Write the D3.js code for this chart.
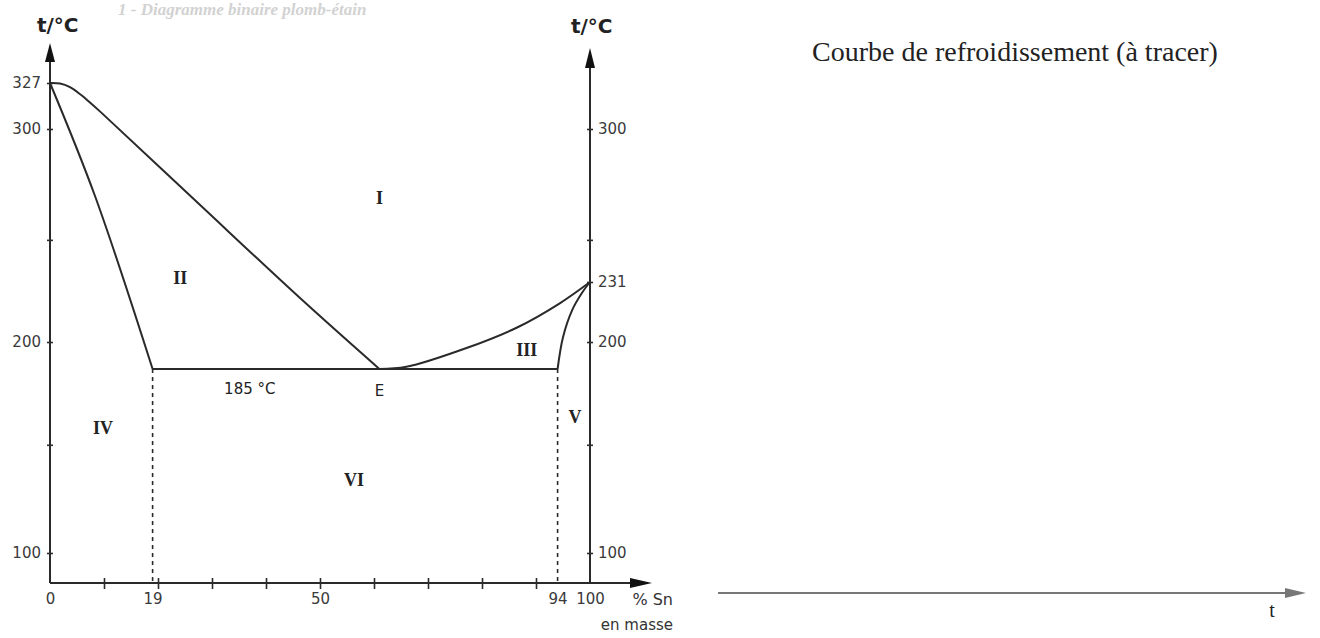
<!DOCTYPE html>
<html>
<head>
<meta charset="utf-8">
<script src="https://cdn.jsdelivr.net/npm/d3@7"></script>
<style>
  body { margin: 0; background: #fff; }
  svg { display: block; }
</style>
</head>
<body>
<div id="root"></div>
<script>
// Data ///////////////////////////////////////////////////////////////////
// composition in % Sn (mass), temperature in °C
const liquidusPb = [[0, 327], [1.85, 326.7], [3.7, 324.6], [5.6, 320.4], [7.4, 315.6], [9.3, 310.2], [27.8, 265.7], [46.3, 222.7], [61, 185]];
const solidusPb = [[0, 327], [8.3, 270], [19, 185]];
const liquidusSn = [[61, 185], [66, 186.2], [77, 196.5], [86.5, 207.5], [94.4, 220], [100, 231]];
const solidusSn = [[94, 185], [95, 202.5], [96.7, 216.5], [98.5, 225.3], [100, 231]];
const eutecticT = 185;
const eutecticX = 61;
const limitsX = [19, 94];

const leftTicks = [100, 150, 200, 250, 300, 327];
const leftLabels = [100, 200, 300, 327];
const rightTicks = [100, 150, 200, 231, 250, 300];
const rightLabels = [100, 200, 231, 300];
const bottomTicks = [10, 20, 30, 40, 50, 60, 70, 80, 90];
const bottomLabels = [0, 19, 50, 94, 100];

const regions = [
  { name: 'I', x: 61, t: 269 },
  { name: 'II', x: 24.1, t: 233 },
  { name: 'III', x: 88.3, t: 195.6 },
  { name: 'IV', x: 9.8, t: 158 },
  { name: 'V', x: 97.2, t: 163 },
  { name: 'VI', x: 56.3, t: 134 },
];

const tMin = 86;

// Chart ///////////////////////////////////////////////////////////////////
let width = 1320;
let height = 638;

const svg = d3.select('#root').append('svg').attr('width', width).attr('height', height);

const ink = '#2a2a2a';
const sans = 'DejaVu Sans, sans-serif';
const serif = 'Liberation Serif, Times New Roman, serif';

// faded heading of the source page
svg.append('text')
  .attr('x', 118).attr('y', 15)
  .attr('font-family', serif).attr('font-style', 'italic').attr('font-weight', 'bold')
  .attr('font-size', 17).attr('fill', '#d2d2d2')
  .text('1 - Diagramme binaire plomb-étain');

// scales (the drawing is not strictly to scale, so the y scale is piecewise)
let xScale = d3.scaleLinear().domain([0, 100]).range([50, 590]);
let yScale = d3.scaleLinear()
  .domain([tMin, 100, 185, 200, 231, 300, 327])
  .range([583, 553, 369, 342, 282, 129, 83]);

const arrow = (pts) => 'M' + pts.map((p) => p.join(',')).join('L') + 'Z';

// Y axes ///////////////////////////////////////////////////////////////////
let yLeft = d3.axisLeft(yScale).tickValues(leftTicks)
  .tickFormat((d) => (leftLabels.includes(d) ? d : ''))
  .tickSize(0).tickPadding(9);

let leftGroup = svg.append('g').attr('transform', `translate(${xScale(0)},0)`).call(yLeft);

let yRight = d3.axisRight(yScale).tickValues(rightTicks)
  .tickFormat((d) => (rightLabels.includes(d) ? d : ''))
  .tickSize(0).tickPadding(8);

let rightGroup = svg.append('g').attr('transform', `translate(${xScale(100)},0)`).call(yRight);

[leftGroup, rightGroup].forEach((g) => {
  g.select('.domain').remove();
  g.selectAll('.tick line').attr('x1', -3).attr('x2', 3).attr('stroke', ink).attr('stroke-width', 1.6);
  g.selectAll('.tick text').attr('font-family', sans).attr('font-size', 15).attr('fill', '#3a3a3a');
});

svg.append('line')
  .attr('x1', xScale(0)).attr('x2', xScale(0))
  .attr('y1', yScale(tMin)).attr('y2', 60)
  .attr('stroke', ink).attr('stroke-width', 2);
svg.append('path')
  .attr('d', arrow([[xScale(0), 43], [xScale(0) - 5, 62], [xScale(0) + 5, 62]]))
  .attr('fill', '#111');

svg.append('line')
  .attr('x1', xScale(100)).attr('x2', xScale(100))
  .attr('y1', yScale(tMin)).attr('y2', 66)
  .attr('stroke', ink).attr('stroke-width', 2);
svg.append('path')
  .attr('d', arrow([[xScale(100), 48], [xScale(100) - 5, 68], [xScale(100) + 5, 68]]))
  .attr('fill', '#111');

svg.append('text').attr('x', 37).attr('y', 32)
  .attr('font-family', sans).attr('font-weight', 'bold').attr('font-size', 20).attr('fill', '#222')
  .text('t/°C');
svg.append('text').attr('x', 571).attr('y', 33)
  .attr('font-family', sans).attr('font-weight', 'bold').attr('font-size', 20).attr('fill', '#222')
  .text('t/°C');

// X axis ///////////////////////////////////////////////////////////////////
let xMarks = d3.axisBottom(xScale).tickValues(bottomTicks).tickFormat('').tickSize(0);
let xMarkGroup = svg.append('g').attr('transform', `translate(0,${yScale(tMin)})`).call(xMarks);
xMarkGroup.select('.domain').remove();
xMarkGroup.selectAll('.tick line').attr('y1', -5).attr('y2', 6).attr('stroke', ink).attr('stroke-width', 1.6);

let xLabels = d3.axisBottom(xScale).tickValues(bottomLabels).tickSize(0).tickPadding(10);
let xLabelGroup = svg.append('g').attr('transform', `translate(0,${yScale(tMin)})`).call(xLabels);
xLabelGroup.select('.domain').remove();
xLabelGroup.selectAll('.tick text').attr('font-family', sans).attr('font-size', 15).attr('fill', '#3a3a3a');

svg.append('line')
  .attr('x1', xScale(0)).attr('x2', 632)
  .attr('y1', yScale(tMin)).attr('y2', yScale(tMin))
  .attr('stroke', ink).attr('stroke-width', 2);
svg.append('path')
  .attr('d', arrow([[652, yScale(tMin)], [630, yScale(tMin) - 5], [630, yScale(tMin) + 5]]))
  .attr('fill', '#111');

svg.append('text').attr('x', 673).attr('y', 605).attr('text-anchor', 'end')
  .attr('font-family', sans).attr('font-size', 16).attr('fill', '#333').text('% Sn');
svg.append('text').attr('x', 673).attr('y', 630).attr('text-anchor', 'end')
  .attr('font-family', sans).attr('font-size', 15).attr('fill', '#333').text('en masse');

// Phase diagram ///////////////////////////////////////////////////////////
let curve = d3.line()
  .x((d) => xScale(d[0]))
  .y((d) => yScale(d[1]))
  .curve(d3.curveCatmullRom.alpha(0.5));

let straight = d3.line()
  .x((d) => xScale(d[0]))
  .y((d) => yScale(d[1]));

[liquidusPb, solidusPb, liquidusSn, solidusSn].forEach((pts) => {
  svg.append('path').datum(pts)
    .attr('d', curve)
    .attr('fill', 'none').attr('stroke', ink).attr('stroke-width', 2);
});

svg.append('path').datum([[limitsX[0], eutecticT], [limitsX[1], eutecticT]])
  .attr('d', straight)
  .attr('fill', 'none').attr('stroke', ink).attr('stroke-width', 2);

limitsX.forEach((x) => {
  svg.append('path').datum([[x, eutecticT], [x, tMin]])
    .attr('d', straight)
    .attr('fill', 'none').attr('stroke', ink).attr('stroke-width', 1.6)
    .attr('stroke-dasharray', '4,4');
});

svg.append('text')
  .attr('x', xScale(37)).attr('y', yScale(eutecticT) + 25)
  .attr('text-anchor', 'middle')
  .attr('font-family', sans).attr('font-size', 15).attr('fill', '#222')
  .text('185 °C');

svg.append('text')
  .attr('x', xScale(eutecticX)).attr('y', yScale(eutecticT) + 27)
  .attr('text-anchor', 'middle')
  .attr('font-family', sans).attr('font-size', 15).attr('fill', '#222')
  .text('E');

svg.selectAll('.region')
  .data(regions)
  .enter()
  .append('text')
  .attr('class', 'region')
  .attr('x', (d) => xScale(d.x))
  .attr('y', (d) => yScale(d.t))
  .attr('dy', '0.35em')
  .attr('text-anchor', 'middle')
  .attr('font-family', serif).attr('font-weight', 'bold').attr('font-size', 18).attr('fill', '#222')
  .text((d) => d.name);

// Cooling curve (empty frame) /////////////////////////////////////////////
svg.append('text')
  .attr('x', 1015).attr('y', 61)
  .attr('text-anchor', 'middle')
  .attr('font-family', serif).attr('font-size', 28).attr('fill', '#222')
  .text('Courbe de refroidissement (à tracer)');

svg.append('line')
  .attr('x1', 718).attr('x2', 1288)
  .attr('y1', 593).attr('y2', 593)
  .attr('stroke', '#777').attr('stroke-width', 2);
svg.append('path')
  .attr('d', arrow([[1306, 593], [1285, 588], [1285, 598]]))
  .attr('fill', '#777');

svg.append('text')
  .attr('x', 1272).attr('y', 617)
  .attr('text-anchor', 'middle')
  .attr('font-family', serif).attr('font-size', 20).attr('fill', '#222')
  .text('t');
</script>
</body>
</html>
